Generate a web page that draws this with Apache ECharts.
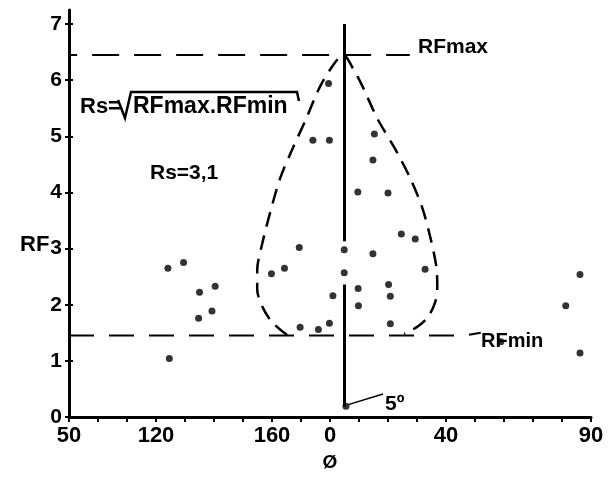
<!DOCTYPE html>
<html>
<head>
<meta charset="UTF-8">
<title>RF</title>
<script src="https://cdn.jsdelivr.net/npm/echarts@6/dist/echarts.min.js"></script>
<style>
html,body{margin:0;padding:0;background:#fff;}
#main{width:616px;height:477px;}
</style>
</head>
<body>
<div id="main"></div>
<script>
// x axis runs 90..180 then wraps 0..90, drawn here as 90..270
var xTickLabels = {90: '50', 120: '120', 160: '160', 180: '0', 220: '40', 270: '90'};
var yTicks = [0, 1, 2, 3, 4, 5, 6, 7];

// measured points (phi, RF)
var points = [
    [124.1, 2.65], [129.5, 2.75], [135.0, 2.22], [140.4, 2.33], [134.7, 1.76], [139.3, 1.89], [124.6, 1.04],
    [179.5, 5.94], [174.1, 4.93], [179.8, 4.93], [195.3, 5.04], [194.8, 4.58],
    [169.4, 3.02], [159.8, 2.55], [164.3, 2.65], [184.9, 2.98], [184.9, 2.57], [181.0, 2.16],
    [169.7, 1.60], [176.0, 1.56], [179.8, 1.67],
    [189.6, 4.01], [200.0, 3.99], [204.6, 3.26], [209.4, 3.17], [194.8, 2.91], [212.8, 2.63],
    [189.7, 2.29], [200.2, 2.36], [200.8, 2.15], [189.8, 1.98], [200.8, 1.66],
    [266.2, 2.54], [261.3, 1.98], [238.9, 1.34], [266.2, 1.14],
    [185.5, 0.19]
];

var rfMaxLine = [[83.5, 6.45], [207.5, 6.45]];
var rfMinLine = [[90, 1.45], [226, 1.45], [232, 1.5]];
var phiLineTop = [[185, 7.0], [185, 3.13]];
var phiLineBottom = [[185, 2.36], [185, 0.19]];
var leader5 = [[186.3, 0.22], [198.3, 0.41]];

// dashed envelope, from left bottom over the apex to right bottom
var envelope = [
    [165.2, 1.46], [160.4, 1.67], [157.0, 1.93], [154.9, 2.27], [154.9, 2.62], [156.6, 3.08],
    [159.4, 3.65], [162.8, 4.25], [167.0, 4.77], [171.5, 5.28], [176.6, 5.89], [181.8, 6.32],
    [184.6, 6.45],
    [187.7, 6.23], [191.2, 5.89], [196.3, 5.32], [202.5, 4.77], [207.7, 4.25], [211.8, 3.73],
    [214.5, 3.22], [216.6, 2.70], [217.0, 2.32], [216.3, 2.05], [213.9, 1.79], [210.5, 1.62],
    [205.6, 1.48]
];

var FONT = 'Liberation Sans';
var INK = '#000';

var myChart = echarts.init(document.getElementById('main'), null, {renderer: 'canvas'});

function line(data, type, width, smooth) {
    return {
        type: 'line', data: data, symbol: 'none', clip: false, smooth: smooth || false,
        lineStyle: {color: INK, width: width, type: type}, z: 3, silent: true
    };
}

var xBase = {
    type: 'value', min: 90, max: 270, interval: 10,
    splitLine: {show: false}
};
var yBase = {
    type: 'value', min: 0, max: 7.25, interval: 1,
    splitLine: {show: false}
};

var option = {
    animation: false,
    backgroundColor: '#fff',
    grid: {left: 69, right: 25, top: 10, bottom: 45},
    xAxis: [
        Object.assign({}, xBase, {
            name: 'Ø', nameLocation: 'middle', nameGap: 36,
            nameTextStyle: {color: INK, fontFamily: FONT, fontWeight: 'bold', fontSize: 19},
            axisLine: {lineStyle: {color: INK, width: 3}},
            axisTick: {length: 5, lineStyle: {color: INK, width: 2}},
            axisLabel: {
                interval: 0, margin: 8, color: INK, fontFamily: FONT, fontWeight: 'bold', fontSize: 22,
                formatter: function (v) { return xTickLabels[v] !== undefined ? xTickLabels[v] : ''; }
            }
        }),
        Object.assign({}, xBase, {
            axisLine: {show: false},
            axisTick: {inside: true, length: 5, lineStyle: {color: INK, width: 2}},
            axisLabel: {show: false}
        })
    ],
    yAxis: [
        Object.assign({}, yBase, {
            axisLine: {lineStyle: {color: INK, width: 3}},
            axisTick: {length: 4, customValues: yTicks, lineStyle: {color: INK, width: 2}},
            axisLabel: {
                margin: 7, color: INK, fontFamily: FONT, fontWeight: 'bold', fontSize: 21,
                customValues: yTicks,
                formatter: function (v) { return v % 1 === 0 ? String(v) : ''; }
            }
        }),
        Object.assign({}, yBase, {
            position: 'left',
            axisLine: {show: false},
            axisTick: {inside: true, length: 4, customValues: yTicks, lineStyle: {color: INK, width: 2}},
            axisLabel: {show: false}
        })
    ],
    series: [
        line(rfMaxLine, [27, 15], 2),
        line(rfMinLine, [25, 15], 2),
        line(envelope, [15, 9], 2.5, 0.3),
        line(phiLineTop, 'solid', 3),
        line(phiLineBottom, 'solid', 3),
        line(leader5, 'solid', 1.5),
        {
            type: 'scatter', data: points, symbol: 'circle', symbolSize: 7,
            itemStyle: {color: INK}, z: 4, silent: true
        }
    ],
    graphic: [
        {type: 'text', left: 20, top: 234, style: {text: 'RF', fill: INK, font: 'bold 22px ' + FONT}},
        {type: 'text', left: 80, top: 96, style: {text: 'Rs=', fill: INK, font: 'bold 22px ' + FONT}},
        {type: 'polyline', shape: {points: [[118, 100], [125, 118], [131, 92], [297, 92], [299, 101]]},
            style: {stroke: INK, lineWidth: 2.5, fill: null}},
        {type: 'text', left: 133, top: 95, style: {text: 'RFmax.RFmin', fill: INK, font: 'bold 23px ' + FONT}},
        {type: 'text', left: 150, top: 163, style: {text: 'Rs=3,1', fill: INK, font: 'bold 21px ' + FONT}},
        {type: 'text', left: 418, top: 37, style: {text: 'RFmax', fill: INK, font: 'bold 21px ' + FONT}},
        {type: 'text', left: 481, top: 331, style: {text: 'RFmin', fill: INK, font: 'bold 20px ' + FONT}},
        {type: 'text', left: 385, top: 394, style: {text: '5º', fill: INK, font: 'bold 21px ' + FONT}}
    ]
};

myChart.setOption(option, true);
</script>
</body>
</html>
